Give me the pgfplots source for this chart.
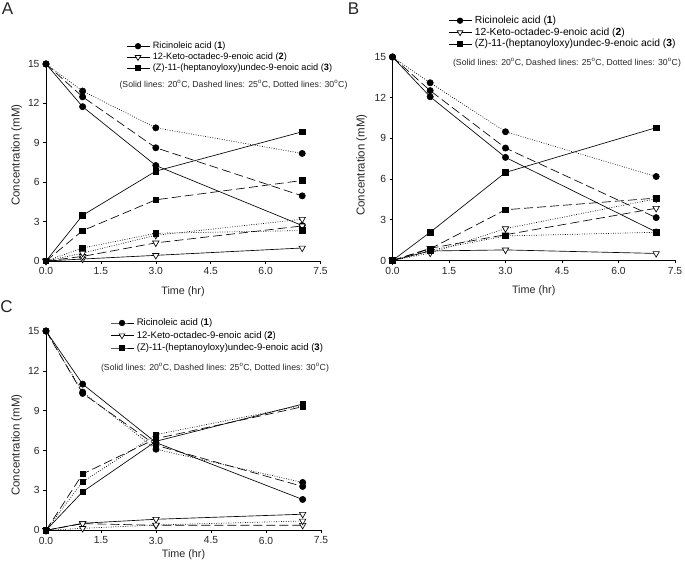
\documentclass[border=0pt]{standalone}
\usepackage{fontspec}
\setmainfont{Liberation Sans}
\usepackage{pgfplots}
\pgfplotsset{compat=1.18}

\pgfplotsset{
  panel/.style={
    scale only axis,
    anchor=south west,
    xmin=0, xmax=7.5, ymin=0, ymax=15,
    axis lines*=left,
    axis line style={black, line width=0.7bp},
    xtick={0,1.5,3,4.5,6,7.5},
    ytick={0,3,6,9,12,15},
    tick align=outside,
    major tick length=3bp,
    tick style={black, line width=0.6bp},
    xticklabel style={/pgf/number format/fixed, /pgf/number format/fixed zerofill, /pgf/number format/precision=1},
    ticklabel style={font=\fontsize{10.3bp}{12bp}\selectfont, text=black!85},
    /pgf/number format/assume math mode=true,
    clip=false,
    legend cell align=left,
    every axis plot/.append style={line width=0.65bp},
    legend image code/.code={\draw[mark repeat=2,mark phase=2,##1] plot coordinates {(0bp,0bp) (11.5bp,0bp) (23bp,0bp)};},
  },
  ls/.style={solid},
  ld/.style={dash pattern=on 9bp off 4bp},
  lt/.style={dash pattern=on 0.8bp off 1.6bp},
  mc/.style={mark=*, mark size=3.1bp, mark options={solid, fill=black}},
  mt/.style={mark=triangle*, mark size=3.7bp, mark options={solid, fill=white, rotate=180}},
  ms/.style={mark=square*, mark size=2.8bp, mark options={solid, fill=black}},
}
\newcommand{\legtexts}{\legend{Ricinoleic acid (\textbf{1}), 12-Keto-octadec-9-enoic acid (\textbf{2}), (Z)-11-(heptanoyloxy)undec-9-enoic acid (\textbf{3})}}
\newcommand{\legimgs}{\addlegendimage{ls, mc, mark size=2.8bp}\addlegendimage{ls, mt, mark size=3.3bp}\addlegendimage{ls, ms, mark size=2.5bp}}
\newcommand{\notetext}{(Solid lines: 20\textsuperscript{o}C, Dashed lines: 25\textsuperscript{o}C, Dotted lines: 30\textsuperscript{o}C)}

\begin{document}
\begin{tikzpicture}
\useasboundingbox (0,0) rectangle (685bp,571bp);

% ---------------- Panel A ----------------
\begin{axis}[panel, at={(46bp,310bp)}, width=274.5bp, height=197bp,
  legend style={at={(0.2914,1.1142)}, anchor=north west, draw=none, fill=none, inner sep=0pt,
    font=\fontsize{9.2bp}{11bp}\selectfont, row sep=2bp, column sep=3bp,
    nodes={inner sep=0pt, text height=7bp, text depth=2bp}}]
\legimgs
\legtexts
\addplot[ls, mc, forget plot] coordinates {(0,15) (1,11.75) (3,7.27) (7,2.7)};
\addplot[ld, mc, forget plot] coordinates {(0,15) (1,12.5) (3,8.62) (7,4.96)};
\addplot[lt, mc, forget plot] coordinates {(0,15) (1,12.94) (3,10.14) (7,8.19)};
\addplot[ls, mt, forget plot] coordinates {(0,0) (1,0.15) (3,0.43) (7,0.99)};
\addplot[ld, mt, forget plot] coordinates {(0,0) (1,0.35) (3,1.38) (7,2.67)};
\addplot[lt, mt, forget plot] coordinates {(0,0) (1,0.6) (3,1.96) (7,3.18)};
\addplot[ls, ms, forget plot] coordinates {(0,0) (1,3.48) (3,6.84) (7,9.84)};
\addplot[ld, ms, forget plot] coordinates {(0,0) (1,2.31) (3,4.66) (7,6.13)};
\addplot[lt, ms, forget plot] coordinates {(0,0) (1,0.99) (3,2.11) (7,2.32)};
\end{axis}

% ---------------- Panel B ----------------
\begin{axis}[panel, at={(392.5bp,310.5bp)}, width=282.5bp, height=203.5bp,
  legend style={at={(0.1965,1.204)}, anchor=north west, draw=none, fill=none, inner sep=0pt,
    font=\fontsize{10.3bp}{12bp}\selectfont, row sep=1.7bp, column sep=3bp,
    nodes={inner sep=0pt, text height=7.7bp, text depth=2.3bp}}]
\legimgs
\legtexts
\addplot[ls, mc, forget plot] coordinates {(0,15) (1,12.07) (3,7.6) (7,2.1)};
\addplot[ld, mc, forget plot] coordinates {(0,15) (1,12.52) (3,8.29) (7,3.16)};
\addplot[lt, mc, forget plot] coordinates {(0,15) (1,13.1) (3,9.49) (7,6.19)};
\addplot[ls, mt, forget plot] coordinates {(0,0) (1,0.7) (3,0.78) (7,0.52)};
\addplot[ld, mt, forget plot] coordinates {(0,0) (1,0.9) (3,1.9) (7,3.85)};
\addplot[lt, mt, forget plot] coordinates {(0,0) (1,0.55) (3,2.35) (7,4.55)};
\addplot[ls, ms, forget plot] coordinates {(0,0) (1,2.08) (3,6.49) (7,9.79)};
\addplot[ld, ms, forget plot] coordinates {(0,0) (1,0.86) (3,3.74) (7,4.6)};
\addplot[lt, ms, forget plot] coordinates {(0,0) (1,0.75) (3,1.81) (7,2.08)};
\end{axis}

% ---------------- Panel C ----------------
\begin{axis}[panel, at={(46bp,40.7bp)}, width=275bp, height=199.3bp,
  legend style={at={(0.2327,1.065)}, anchor=north west, draw=none, fill=none, inner sep=0pt,
    font=\fontsize{9.55bp}{11.5bp}\selectfont, row sep=3bp, column sep=3bp,
    nodes={inner sep=0pt, text height=7.3bp, text depth=2.2bp}}]
\legimgs
\legtexts
\addplot[ls, mc, forget plot] coordinates {(0,15) (1,11.0) (3,6.6) (7,2.32)};
\addplot[ld, mc, forget plot] coordinates {(0,15) (1,10.3) (3,6.4) (7,3.3)};
\addplot[lt, mc, forget plot] coordinates {(0,15) (1,10.4) (3,6.1) (7,3.6)};
\addplot[ls, mt, forget plot] coordinates {(0,0) (1,0.53) (3,0.83) (7,1.21)};
\addplot[ld, mt, forget plot] coordinates {(0,0) (1,0.5) (3,0.38) (7,0.38)};
\addplot[lt, mt, forget plot] coordinates {(0,0) (1,0.15) (3,0.4) (7,0.7)};
\addplot[ls, ms, forget plot] coordinates {(0,0) (1,2.9) (3,6.7) (7,9.5)};
\addplot[ld, ms, forget plot] coordinates {(0,0) (1,4.24) (3,6.9) (7,9.3)};
\addplot[lt, ms, forget plot] coordinates {(0,0) (1,3.66) (3,7.2) (7,9.4)};
\end{axis}

% ---------------- Texts ----------------
\begin{scope}[every node/.style={inner sep=0pt, text=black!85}]
\node[font=\fontsize{8.7bp}{10bp}\selectfont] at (233.5bp,486bp) {\notetext};
\node[font=\fontsize{8.7bp}{10bp}\selectfont] at (567bp,508.5bp) {\notetext};
\node[font=\fontsize{8.7bp}{10bp}\selectfont] at (215bp,203.3bp) {\notetext};

\node[font=\fontsize{10.8bp}{12bp}\selectfont] at (183bp,279.3bp) {Time (hr)};
\node[font=\fontsize{10.8bp}{12bp}\selectfont] at (533.7bp,280bp) {Time (hr)};
\node[font=\fontsize{10.8bp}{12bp}\selectfont] at (183.5bp,16.7bp) {Time (hr)};

\node[font=\fontsize{11.5bp}{13bp}\selectfont, rotate=90] at (16.7bp,416bp) {Concentration (mM)};
\node[font=\fontsize{11.5bp}{13bp}\selectfont, rotate=90] at (361.7bp,406bp) {Concentration (mM)};
\node[font=\fontsize{11.5bp}{13bp}\selectfont, rotate=90] at (16.7bp,126bp) {Concentration (mM)};

\node[font=\fontsize{17bp}{19bp}\selectfont] at (7.5bp,562bp) {A};
\node[font=\fontsize{17bp}{19bp}\selectfont] at (353.5bp,562bp) {B};
\node[font=\fontsize{17bp}{19bp}\selectfont] at (6.5bp,264bp) {C};
\end{scope}
\end{tikzpicture}
\end{document}
